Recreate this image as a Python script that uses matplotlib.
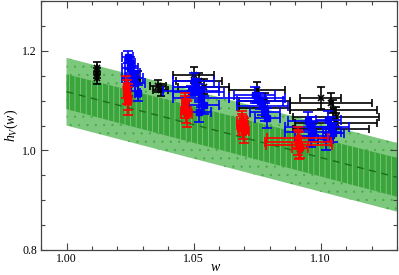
import matplotlib
matplotlib.use("Agg")
import matplotlib.pyplot as plt
import numpy as np

# ---- data ----
band_w = [1.00, 1.13]
band_center = [1.118, 0.946]
band_inner_half = [0.035, 0.039]
band_outer_half = [0.068, 0.069]

black_w = [1.012, 1.012, 1.012, 1.028, 1.036, 1.037, 1.050, 1.052, 1.054,
           1.075, 1.078, 1.078, 1.100, 1.104, 1.105, 1.106, 1.106, 1.104]
black_h = [1.165, 1.155, 1.145, 1.14, 1.13, 1.122, 1.152, 1.14, 1.128,
           1.122, 1.10, 1.085, 1.105, 1.096, 1.082, 1.068, 1.056, 1.044]
black_herr = [0.012, 0.010, 0.012, 0.020, 0.012, 0.012, 0.016, 0.015, 0.015,
              0.016, 0.015, 0.015, 0.022, 0.02, 0.02, 0.02, 0.02, 0.02]
black_werr = [0.0, 0.0, 0.0, 0.001, 0.003, 0.003, 0.008, 0.009, 0.010,
              0.011, 0.010, 0.010, 0.008, 0.016, 0.017, 0.017, 0.016, 0.015]

blue_w = [1.024, 1.025, 1.025, 1.026, 1.026, 1.027, 1.024, 1.028,
          1.050, 1.051, 1.052, 1.053, 1.054, 1.052, 1.049,
          1.074, 1.076, 1.077, 1.078, 1.079, 1.075,
          1.095, 1.096, 1.097, 1.096,
          1.103, 1.104, 1.105, 1.102]
blue_h = [1.188, 1.175, 1.165, 1.155, 1.145, 1.135, 1.125, 1.115,
          1.14, 1.128, 1.118, 1.105, 1.092, 1.078, 1.12,
          1.112, 1.10, 1.09, 1.078, 1.066, 1.105,
          1.06, 1.048, 1.038, 1.028,
          1.062, 1.048, 1.036, 1.022]
blue_herr = [0.012, 0.012, 0.014, 0.014, 0.015, 0.015, 0.016, 0.016,
             0.015, 0.016, 0.016, 0.018, 0.018, 0.02, 0.01,
             0.016, 0.016, 0.018, 0.018, 0.02, 0.01,
             0.018, 0.02, 0.02, 0.022,
             0.018, 0.02, 0.02, 0.022]
blue_werr = [0.002, 0.002, 0.003, 0.003, 0.004, 0.004, 0.001, 0.001,
             0.008, 0.009, 0.010, 0.011, 0.006, 0.005, 0.011,
             0.008, 0.009, 0.010, 0.006, 0.005, 0.011,
             0.008, 0.010, 0.011, 0.006,
             0.005, 0.007, 0.004, 0.003]

red_w = [1.0235, 1.0238, 1.0240, 1.0242,
         1.0465, 1.0467, 1.0470, 1.0472,
         1.0690, 1.0692, 1.0695, 1.0697,
         1.0910, 1.0912, 1.0915, 1.0918]
red_h = [1.128, 1.118, 1.108, 1.100,
         1.095, 1.087, 1.080, 1.074,
         1.060, 1.052, 1.046, 1.040,
         1.025, 1.016, 1.010, 1.004]
red_herr = [0.022, 0.024, 0.026, 0.028,
            0.020, 0.022, 0.024, 0.026,
            0.020, 0.022, 0.024, 0.026,
            0.022, 0.026, 0.028, 0.020]
red_werr = [0.001, 0.001, 0.001, 0.001,
            0.001, 0.001, 0.002, 0.002,
            0.002, 0.002, 0.002, 0.002,
            0.012, 0.013, 0.013, 0.003]

xticks = [1.00, 1.05, 1.10]
yticks = [0.8, 1.0, 1.2]

# ---- plot ----
plt.rcParams['font.family'] = ['Liberation Serif', 'DejaVu Serif']
plt.rcParams['mathtext.fontset'] = 'custom'
plt.rcParams['mathtext.it'] = 'Liberation Serif:italic'
plt.rcParams['mathtext.rm'] = 'Liberation Serif'
plt.rcParams['hatch.linewidth'] = 0.35

fig = plt.figure(figsize=(3.99, 2.75), dpi=100)
ax = fig.add_axes([0.103, 0.091, 0.892, 0.905])

bw = np.array(band_w)
bc = np.array(band_center)
bi = np.array(band_inner_half)
bo = np.array(band_outer_half)

ax.fill_between(bw, bc - bo, bc + bo, facecolor='#7cc87c', edgecolor='#48a848',
                hatch='..', linewidth=0, zorder=1)
ax.fill_between(bw, bc - bi, bc + bi, facecolor='#3aa53a', edgecolor='#b5e2b5',
                hatch='|||', linewidth=0, zorder=2)
ax.plot(bw, bc, ls=(0, (5, 4)), color='#1b6e1b', lw=1.0, zorder=3)

ax.errorbar(black_w, black_h, yerr=black_herr, xerr=black_werr, fmt='x',
            color='black', ms=4, mew=1.2, elinewidth=1.2, capsize=3, capthick=1.2,
            zorder=4)
ax.errorbar(blue_w, blue_h, yerr=blue_herr, xerr=blue_werr, fmt='s',
            color='#0000ff', mfc='#0000ff', ms=4, elinewidth=1.2, capsize=3.5,
            capthick=1.2, zorder=5)
ax.errorbar(red_w, red_h, yerr=red_herr, xerr=red_werr, fmt='o',
            color='#ff0000', ms=5, elinewidth=1.2, capsize=3.5, capthick=1.2,
            zorder=6)

ax.set_xlim(0.99, 1.13)
ax.set_ylim(0.8, 1.3)
ax.set_xticks(xticks)
ax.set_xticklabels(['%.2f' % v for v in xticks])
ax.set_yticks(yticks)
ax.set_yticklabels(['%.1f' % v for v in yticks])
ax.set_xticks(np.arange(0.99, 1.1301, 0.01), minor=True)
ax.set_yticks(np.arange(0.8, 1.3001, 0.05), minor=True)
ax.tick_params(which='both', direction='in', top=True, right=True,
               labelsize=8.5, color='#444444', width=0.8)
ax.tick_params(which='major', length=5)
ax.tick_params(which='minor', length=3)
ax.tick_params(axis='x', which='major', pad=2)
ax.tick_params(axis='y', which='major', pad=3)
for s in ax.spines.values():
    s.set_color('#444444')
    s.set_linewidth(0.9)

ax.set_xlabel('$w$', fontsize=10)
ax.xaxis.set_label_coords(0.49, -0.045)
ax.set_ylabel('$h_V(w)$', fontsize=10)
ax.yaxis.set_label_coords(-0.06, 0.5)

fig.savefig('out.png', dpi=100)
